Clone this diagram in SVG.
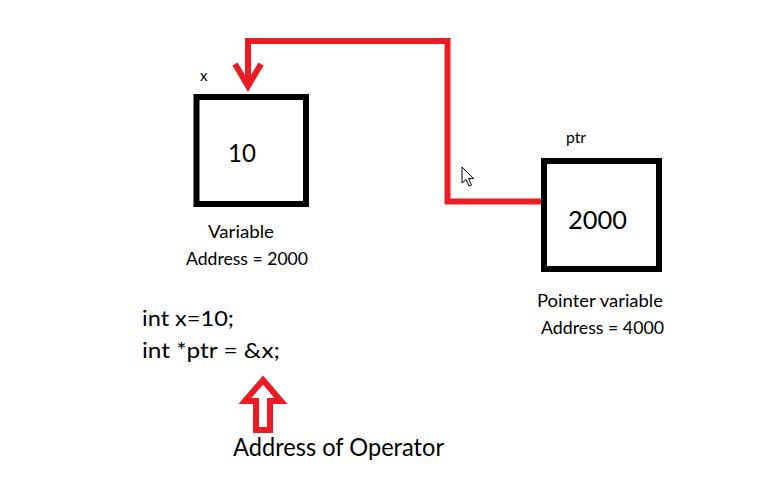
<svg xmlns="http://www.w3.org/2000/svg" width="766" height="494" viewBox="0 0 766 494">
<style>
.box{fill:#fff;stroke:#000;stroke-width:6}
.red{fill:none;stroke:#ED1C24;stroke-width:6}
text{font-family:Lato,"Open Sans","Liberation Sans",sans-serif;fill:#000}
</style>
<rect width="766" height="494" fill="#fff"/>
<g id="connectors">
<path class="red" d="M541 201.5 H447.5 V41 H248 V86"/>
<polyline class="red" points="235,64 248,86 261,64" stroke-linejoin="miter"/>
<polygon class="red" stroke-width="5" stroke-linejoin="miter" points="263,380 281,401 270,401 270,430 256,430 256,401 245,401"/>
</g>
<g id="node-x">
<rect class="box" x="196.5" y="97" width="109.5" height="107"/>
<text x="200" y="81" font-size="15">x</text>
<text x="228" y="162" font-size="25" textLength="28" lengthAdjust="spacingAndGlyphs">10</text>
<text x="208" y="238" font-size="17" textLength="66" lengthAdjust="spacingAndGlyphs">Variable</text>
<text x="186" y="265" font-size="17" textLength="122" lengthAdjust="spacingAndGlyphs">Address = 2000</text>
</g>
<g id="node-ptr">
<rect class="box" x="544" y="161" width="115" height="108"/>
<text x="566" y="143" font-size="15" textLength="20" lengthAdjust="spacingAndGlyphs">ptr</text>
<text x="568" y="229" font-size="25" textLength="59" lengthAdjust="spacingAndGlyphs">2000</text>
<text x="537" y="307" font-size="17" textLength="126" lengthAdjust="spacingAndGlyphs">Pointer variable</text>
<text x="541" y="334" font-size="17" textLength="123" lengthAdjust="spacingAndGlyphs">Address = 4000</text>
</g>
<g id="code">
<text x="142" y="326" font-size="21" textLength="92" lengthAdjust="spacingAndGlyphs">int x=10;</text>
<text x="142" y="358" font-size="21" textLength="138" lengthAdjust="spacingAndGlyphs">int *ptr = &amp;x;</text>
</g>
<g id="label-operator">
<text x="233" y="456" font-size="25" textLength="211" lengthAdjust="spacingAndGlyphs">Address of Operator</text>
</g>
<g id="cursor">
<polygon points="462,167 462,183 466,179.5 469,186 471.5,185 468.5,178.5 473.5,178.5" fill="#fff" stroke="#000" stroke-width="1" stroke-linejoin="round"/>
</g>
</svg>
